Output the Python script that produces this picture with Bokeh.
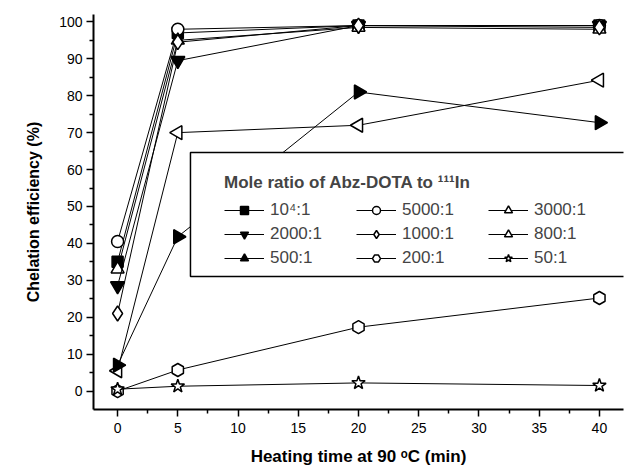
from bokeh.plotting import figure
from bokeh.models import Legend, LegendItem, Range1d, FixedTicker
from bokeh.embed import file_html
from bokeh.resources import INLINE
import math

# ---- data ----
time_min = [0, 5, 20, 40]
series_labels = ["10\u2074:1", "5000:1", "3000:1", "2000:1", "1000:1", "800:1", "500:1", "200:1", "50:1"]
eff_10000 = [35.0, 97.0, 99.0, 99.0]
eff_5000 = [40.5, 98.0, 99.0, 99.0]
eff_3000 = [33.0, 95.0, 98.5, 98.0]
eff_2000 = [28.5, 89.5, 99.0, 99.0]
eff_1000 = [21.0, 94.5, 99.0, 98.5]
eff_800 = [5.5, 70.0, 72.0, 84.2]
eff_500 = [7.0, 41.8, 81.0, 72.7]
eff_200 = [0.0, 5.7, 17.3, 25.2]
eff_50 = [0.5, 1.3, 2.2, 1.5]
series_values = [eff_10000, eff_5000, eff_3000, eff_2000, eff_1000, eff_800, eff_500, eff_200, eff_50]

x_ticks = [0, 5, 10, 15, 20, 25, 30, 35, 40]
y_ticks = [0, 10, 20, 30, 40, 50, 60, 70, 80, 90, 100]

# marker styles: (marker, filled, angle, size)
styles = [
    ("square", True, 0.0, 11),
    ("circle", False, 0.0, 12),
    ("triangle", False, 0.0, 13),
    ("inverted_triangle", True, 0.0, 14),
    ("diamond", False, 0.0, 15),
    ("triangle", False, math.pi / 2, 14),
    ("triangle", True, -math.pi / 2, 14),
    ("hex", False, math.pi / 6, 13),
    ("star", False, 0.0, 14),
]

FONT = "Liberation Sans"

p = figure(width=632, height=471, x_range=Range1d(-2, 42), y_range=Range1d(-5, 102),
           output_backend="svg", toolbar_location=None,
           min_border_left=93, min_border_right=9, min_border_top=14, min_border_bottom=62)
p.outline_line_color = None
p.grid.grid_line_color = None
p.background_fill_color = "white"

items = []
for lab, vals, (mk, filled, ang, sz) in zip(series_labels, series_values, styles):
    lr = p.line(time_min, vals, line_color="black", line_width=1)
    sr = p.scatter(time_min, vals, marker=mk, size=sz, angle=ang,
                   fill_color="black" if filled else "white",
                   line_color="black", line_width=1.5)
    items.append(LegendItem(label=lab, renderers=[lr, sr]))

# legend frame (white box that hides lines behind it)
p.quad(left=[6.05], right=[46], bottom=[31.0], top=[64.6], fill_color="white",
       line_color="black", line_width=1.5)

legend = Legend(items=items, orientation="horizontal", ncols=3,
                location=(131, 141), padding=0, margin=0,
                border_line_color=None, background_fill_alpha=0,
                glyph_width=40, glyph_height=20, label_height=20, label_width=82,
                label_standoff=6, spacing=4,
                label_text_font=FONT, label_text_font_size="17px",
                title="Mole ratio of Abz-DOTA to \u00b9\u00b9\u00b9In",
                title_text_font=FONT, title_text_font_size="17px",
                title_text_font_style="bold", title_standoff=7)
p.add_layout(legend, "center")

for ax in (p.xaxis[0], p.yaxis[0]):
    ax.axis_line_width = 2
    ax.major_tick_line_width = 1.5
    ax.minor_tick_line_width = 1.5
    ax.major_tick_out = 7
    ax.major_tick_in = 0
    ax.minor_tick_out = 4
    ax.minor_tick_in = 0
    ax.major_label_text_font = FONT
    ax.major_label_text_font_size = "14px"
    ax.major_label_text_color = "black"
    ax.axis_label_text_font = FONT
    ax.axis_label_text_font_style = "bold"
    ax.axis_label_text_color = "black"

p.xaxis.axis_label_text_font_size = "17px"
p.yaxis.axis_label_text_font_size = "16px"
p.xaxis.ticker = FixedTicker(ticks=x_ticks, minor_ticks=[t + 2.5 for t in x_ticks[:-1]])
p.yaxis.ticker = FixedTicker(ticks=y_ticks, minor_ticks=[t + 5 for t in y_ticks[:-1]])
p.xaxis.axis_label = "Heating time at 90 \u1d52C (min)"
p.yaxis.axis_label = "Chelation efficiency (%)"
p.xaxis.major_label_standoff = 6
p.yaxis.major_label_standoff = 4
p.xaxis.axis_label_standoff = 11
p.yaxis.axis_label_standoff = 14

open("out.html", "w").write(file_html(p, INLINE))
